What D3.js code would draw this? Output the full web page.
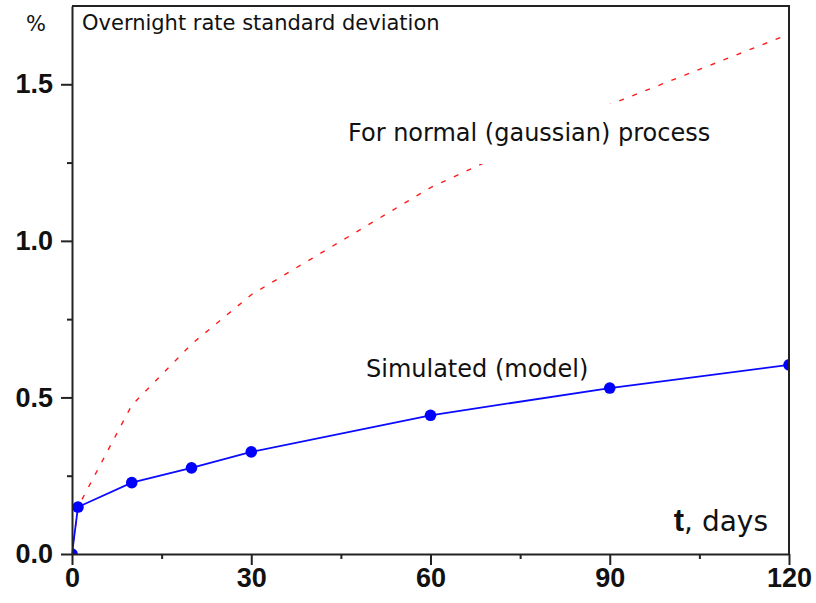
<!DOCTYPE html>
<html>
<head>
<meta charset="utf-8">
<script src="https://cdn.jsdelivr.net/npm/d3@7"></script>
<style>
body { margin: 0; background: #fff; }
</style>
</head>
<body>
<svg id="chart" width="816" height="603"></svg>
<script>
// horizon, days
var days = [0, 1, 10, 20, 30, 60, 90, 120];
// simulated (model) std deviation, %
var simulated = [0, 0.15, 0.228, 0.275, 0.326, 0.443, 0.53, 0.604];
// normal (gaussian) process std deviation, %
var gaussian = [0, 0.15, 0.475, 0.67, 0.828, 1.17, 1.435, 1.66];

var xTicks = [0, 30, 60, 90, 120];
var xMinorTicks = [15, 45, 75, 105];
var yTicks = [0, 0.5, 1.0, 1.5];
var yMinorTicks = [0.25, 0.75, 1.25];

class StdDevChart {

    constructor(id) {
        this.svg = d3.select("#" + id);
        this.width = +this.svg.attr("width");
        this.height = +this.svg.attr("height");
        this.margin = {top: 6, right: 27, bottom: 49, left: 72};
        this.x = d3.scaleLinear().domain([0, 120])
            .range([this.margin.left, this.width - this.margin.right]);
        this.y = d3.scaleLinear().domain([0, 1.75])
            .range([this.height - this.margin.bottom, this.margin.top]);
    }

    drawLines() {
        var x = this.x, y = this.y;
        var line = d3.line().x(function (d) { return x(d[0]); }).y(function (d) { return y(d[1]); });

        this.svg.append("clipPath").attr("id", "plot-clip")
            .append("rect")
            .attr("x", x(0)).attr("y", y(1.75))
            .attr("width", x(120) - x(0)).attr("height", y(0) - y(1.75));

        // gaussian reference, dashed red
        this.svg.append("path")
            .datum(d3.zip(days, gaussian))
            .attr("d", line)
            .attr("fill", "none")
            .attr("stroke", "#ff1a1a")
            .attr("stroke-width", 1.4)
            .attr("stroke-dasharray", "5,9");

        // label sits on a white box that hides the dashed line behind it
        this.svg.append("rect")
            .attr("x", 340).attr("y", 104)
            .attr("width", 385).attr("height", 60)
            .attr("fill", "#fff");
        this.svg.append("text")
            .attr("x", 348).attr("y", 141)
            .attr("font-family", "DejaVu Sans")
            .attr("font-size", 24)
            .attr("fill", "#111")
            .text("For normal (gaussian) process");

        // simulated, solid blue with dots
        var g = this.svg.append("g").attr("clip-path", "url(#plot-clip)");
        g.append("path")
            .datum(d3.zip(days, simulated))
            .attr("d", line)
            .attr("fill", "none")
            .attr("stroke", "#0a0aff")
            .attr("stroke-width", 1.8);
        g.selectAll("circle")
            .data(d3.zip(days, simulated))
            .enter().append("circle")
            .attr("cx", function (d) { return x(d[0]); })
            .attr("cy", function (d) { return y(d[1]); })
            .attr("r", 5.8)
            .attr("fill", "#0000ff");

        this.svg.append("text")
            .attr("x", 366).attr("y", 377)
            .attr("font-family", "DejaVu Sans")
            .attr("font-size", 24)
            .attr("fill", "#111")
            .text("Simulated (model)");
    }

    drawAxes() {
        var x = this.x, y = this.y;
        var tickFont = "Liberation Sans, Arial, sans-serif";

        var yAxis = this.svg.append("g")
            .attr("transform", "translate(" + x(0) + ",0)")
            .call(d3.axisLeft(y).tickValues(yTicks).tickSize(11).tickSizeOuter(0)
                .tickPadding(8).tickFormat(d3.format(".1f")));
        this.svg.append("g")
            .attr("transform", "translate(" + x(0) + ",0)")
            .call(d3.axisLeft(y).tickValues(yMinorTicks).tickSize(5).tickSizeOuter(0).tickFormat(""))
            .select(".domain").remove();

        var xAxis = this.svg.append("g")
            .attr("transform", "translate(0," + y(0) + ")")
            .call(d3.axisBottom(x).tickValues(xTicks).tickSize(11).tickSizeOuter(0).tickPadding(3));
        this.svg.append("g")
            .attr("transform", "translate(0," + y(0) + ")")
            .call(d3.axisBottom(x).tickValues(xMinorTicks).tickSize(5).tickSizeOuter(0).tickFormat(""))
            .select(".domain").remove();

        [yAxis, xAxis].forEach(function (a) {
            a.selectAll("text")
                .attr("font-family", tickFont)
                .attr("font-weight", "bold")
                .attr("font-size", 27)
                .attr("fill", "#111");
        });
        this.svg.selectAll(".domain, .tick line")
            .attr("stroke", "#222")
            .attr("stroke-width", 2);

        // top and right frame
        this.svg.append("path")
            .attr("d", "M" + x(0) + "," + y(1.75) + "H" + x(120) + "V" + y(0))
            .attr("fill", "none")
            .attr("stroke", "#222")
            .attr("stroke-width", 2);
    }

    drawTitles() {
        this.svg.append("text")
            .attr("x", 26).attr("y", 31)
            .attr("font-family", "DejaVu Sans")
            .attr("font-size", 21)
            .attr("fill", "#111")
            .text("%");
        this.svg.append("text")
            .attr("x", 82).attr("y", 30)
            .attr("font-family", "DejaVu Sans")
            .attr("font-size", 21)
            .attr("fill", "#111")
            .text("Overnight rate standard deviation");

        var t = this.svg.append("text")
            .attr("x", 768).attr("y", 531)
            .attr("text-anchor", "end")
            .attr("font-family", "DejaVu Sans")
            .attr("font-size", 28)
            .attr("fill", "#111");
        t.append("tspan").attr("font-weight", "bold").attr("font-family", "Liberation Sans, Arial, sans-serif")
            .attr("font-size", 31).text("t");
        t.append("tspan").text(", days");
    }
}

var chart = new StdDevChart("chart");
chart.drawLines();
chart.drawAxes();
chart.drawTitles();
</script>
</body>
</html>
